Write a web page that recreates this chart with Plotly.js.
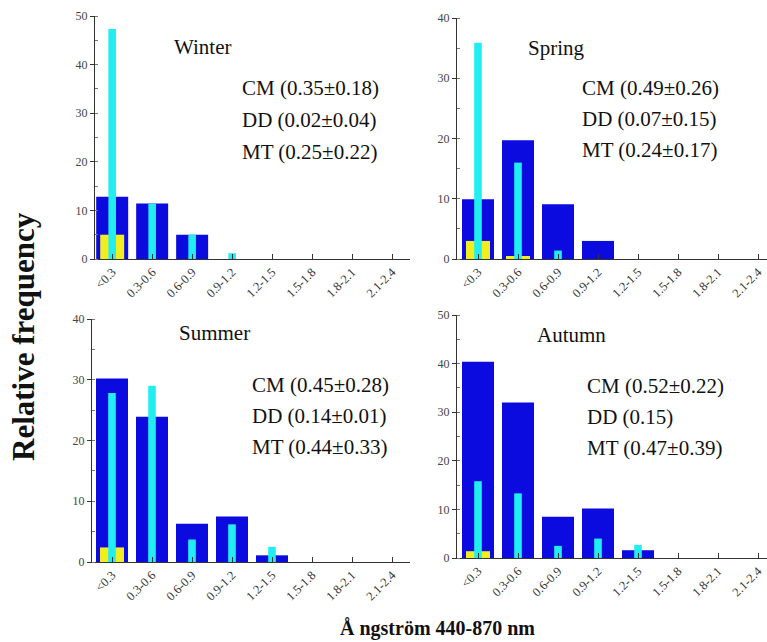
<!DOCTYPE html>
<html>
<head>
<meta charset="utf-8">
<script src="https://cdn.plot.ly/plotly-3.0.1.min.js"></script>
<style>
  html, body { margin: 0; padding: 0; background: #ffffff; }
  #chart { width: 767px; height: 642px; }
</style>
</head>
<body>
<div id="chart"></div>
<script>
// Angstrom exponent bins (440-870 nm)
const categories = ['<0.3', '0.3-0.6', '0.6-0.9', '0.9-1.2', '1.2-1.5', '1.5-1.8', '1.8-2.1', '2.1-2.4'];

// Relative frequency (%) per season and aerosol type
const winterCM = [12.8, 11.4, 5.0, 0, 0, 0, 0, 0];
const winterMT = [47.3, 11.4, 5.0, 1.2, 0, 0, 0, 0];
const winterDD = [5.0, 0, 0, 0, 0, 0, 0, 0];

const springCM = [9.9, 19.7, 9.1, 3.0, 0, 0, 0, 0];
const springMT = [35.9, 16.0, 1.4, 0, 0, 0, 0, 0];
const springDD = [3.0, 0.5, 0, 0, 0, 0, 0, 0];

const summerCM = [30.2, 23.9, 6.3, 7.5, 1.1, 0, 0, 0];
const summerMT = [27.8, 29.0, 3.7, 6.2, 2.5, 0, 0, 0];
const summerDD = [2.4, 0, 0, 0, 0, 0, 0, 0];

const autumnCM = [40.4, 32.0, 8.5, 10.2, 1.6, 0, 0, 0];
const autumnMT = [15.8, 13.3, 2.5, 4.0, 2.7, 0, 0, 0];
const autumnDD = [1.4, 0, 0, 0, 0, 0, 0, 0];

// Season names and mean ± std labels
const seasonNames = ['Winter', 'Spring', 'Summer', 'Autumn'];
const statLines = [
  ['CM (0.35±0.18)', 'DD (0.02±0.04)', 'MT (0.25±0.22)'],
  ['CM (0.49±0.26)', 'DD (0.07±0.15)', 'MT (0.24±0.17)'],
  ['CM (0.45±0.28)', 'DD (0.14±0.01)', 'MT (0.44±0.33)'],
  ['CM (0.52±0.22)', 'DD (0.15)', 'MT (0.47±0.39)']
];
const yMax = [50, 40, 40, 50];

const W = 767, H = 642;
const px = x => x / W;
const py = y => 1 - y / H;

const BLUE = '#0b0be0';
const CYAN = '#22eef2';
const YELLOW = '#f2ee1e';
const SERIF = 'Liberation Serif, Times New Roman, serif';

// panel geometry in page pixels: [left, right, top, bottom], category range
const panels = [
  { box: [95, 410, 16, 259], range: [-0.43, 7.45] },
  { box: [457, 767, 18, 259], range: [-0.525, 7.225] },
  { box: [92, 410, 319, 562], range: [-0.5, 7.45] },
  { box: [457, 767, 315, 558], range: [-0.525, 7.225] }
];

const series = [
  [winterCM, winterDD, winterMT],
  [springCM, springDD, springMT],
  [summerCM, summerDD, summerMT],
  [autumnCM, autumnDD, autumnMT]
];

const traces = [];
const layout = {
  width: W, height: H,
  margin: { l: 0, r: 0, t: 0, b: 0 },
  paper_bgcolor: '#ffffff',
  plot_bgcolor: '#ffffff',
  barmode: 'overlay',
  showlegend: false,
  font: { family: SERIF, color: '#222' },
  annotations: []
};

panels.forEach((p, i) => {
  const n = i + 1;
  const xa = n === 1 ? 'x' : 'x' + n;
  const ya = n === 1 ? 'y' : 'y' + n;
  const [cm, dd, mt] = series[i];

  traces.push({ type: 'bar', x: categories, y: cm, xaxis: xa, yaxis: ya,
    width: 0.8, marker: { color: BLUE, line: { width: 0 } }, name: 'CM' });
  traces.push({ type: 'bar', x: categories, y: dd, xaxis: xa, yaxis: ya,
    width: 0.6, marker: { color: YELLOW, line: { width: 0 } }, name: 'DD' });
  traces.push({ type: 'bar', x: categories, y: mt, xaxis: xa, yaxis: ya,
    width: 0.19, marker: { color: CYAN, line: { width: 0 } }, name: 'MT' });

  const [l, r, t, b] = p.box;
  layout['xaxis' + (n === 1 ? '' : n)] = {
    domain: [px(l), px(r)],
    anchor: ya,
    type: 'category',
    categoryorder: 'array',
    categoryarray: categories,
    range: p.range,
    showline: true, linecolor: '#333', linewidth: 1,
    showgrid: false, zeroline: false,
    ticks: 'inside', ticklen: 5, tickcolor: '#333',
    tickangle: -45,
    tickfont: { family: SERIF, size: 12.5, color: '#333' },
    fixedrange: true
  };
  layout['yaxis' + (n === 1 ? '' : n)] = {
    domain: [py(b), py(t)],
    anchor: xa,
    range: [0, yMax[i]],
    dtick: 10,
    showline: true, linecolor: '#333', linewidth: 1,
    showgrid: false, zeroline: false,
    ticks: 'outside', ticklen: 4, tickcolor: '#333',
    minor: { dtick: 5, ticks: 'inside', ticklen: 3, tickcolor: '#777' },
    tickfont: { family: SERIF, size: 12, color: '#444' },
    fixedrange: true
  };
});

// season titles
const titlePos = [[202, 47], [556, 48], [214, 333], [571, 335]];
seasonNames.forEach((s, i) => {
  layout.annotations.push({
    xref: 'paper', yref: 'paper', x: px(titlePos[i][0]), y: py(titlePos[i][1]),
    xanchor: 'center', yanchor: 'middle', showarrow: false,
    text: s, font: { family: SERIF, size: 21, color: '#111' }
  });
});

// statistics lines (left edge, first line centre, line step)
const statPos = [[240, 88, 32], [580, 88, 31], [250, 385, 31], [585, 386, 31]];
statLines.forEach((lines, i) => {
  lines.forEach((txt, k) => {
    layout.annotations.push({
      xref: 'paper', yref: 'paper',
      x: px(statPos[i][0]), y: py(statPos[i][1] + k * statPos[i][2]),
      xanchor: 'left', yanchor: 'middle', showarrow: false,
      text: txt, font: { family: SERIF, size: 21, color: '#111' }
    });
  });
});

// shared axis titles
layout.annotations.push({
  xref: 'paper', yref: 'paper', x: px(23), y: py(337),
  xanchor: 'center', yanchor: 'middle', showarrow: false, textangle: -90,
  text: '<b>Relative frequency</b>',
  font: { family: SERIF, size: 31, color: '#111' }
});
layout.annotations.push({
  xref: 'paper', yref: 'paper', x: px(437), y: 0,
  xanchor: 'center', yanchor: 'bottom', showarrow: false,
  text: '<b>Å ngström 440-870 nm</b>',
  font: { family: SERIF, size: 20, color: '#111' }
});

Plotly.newPlot('chart', traces, layout, { displayModeBar: false, staticPlot: true });
</script>
</body>
</html>
